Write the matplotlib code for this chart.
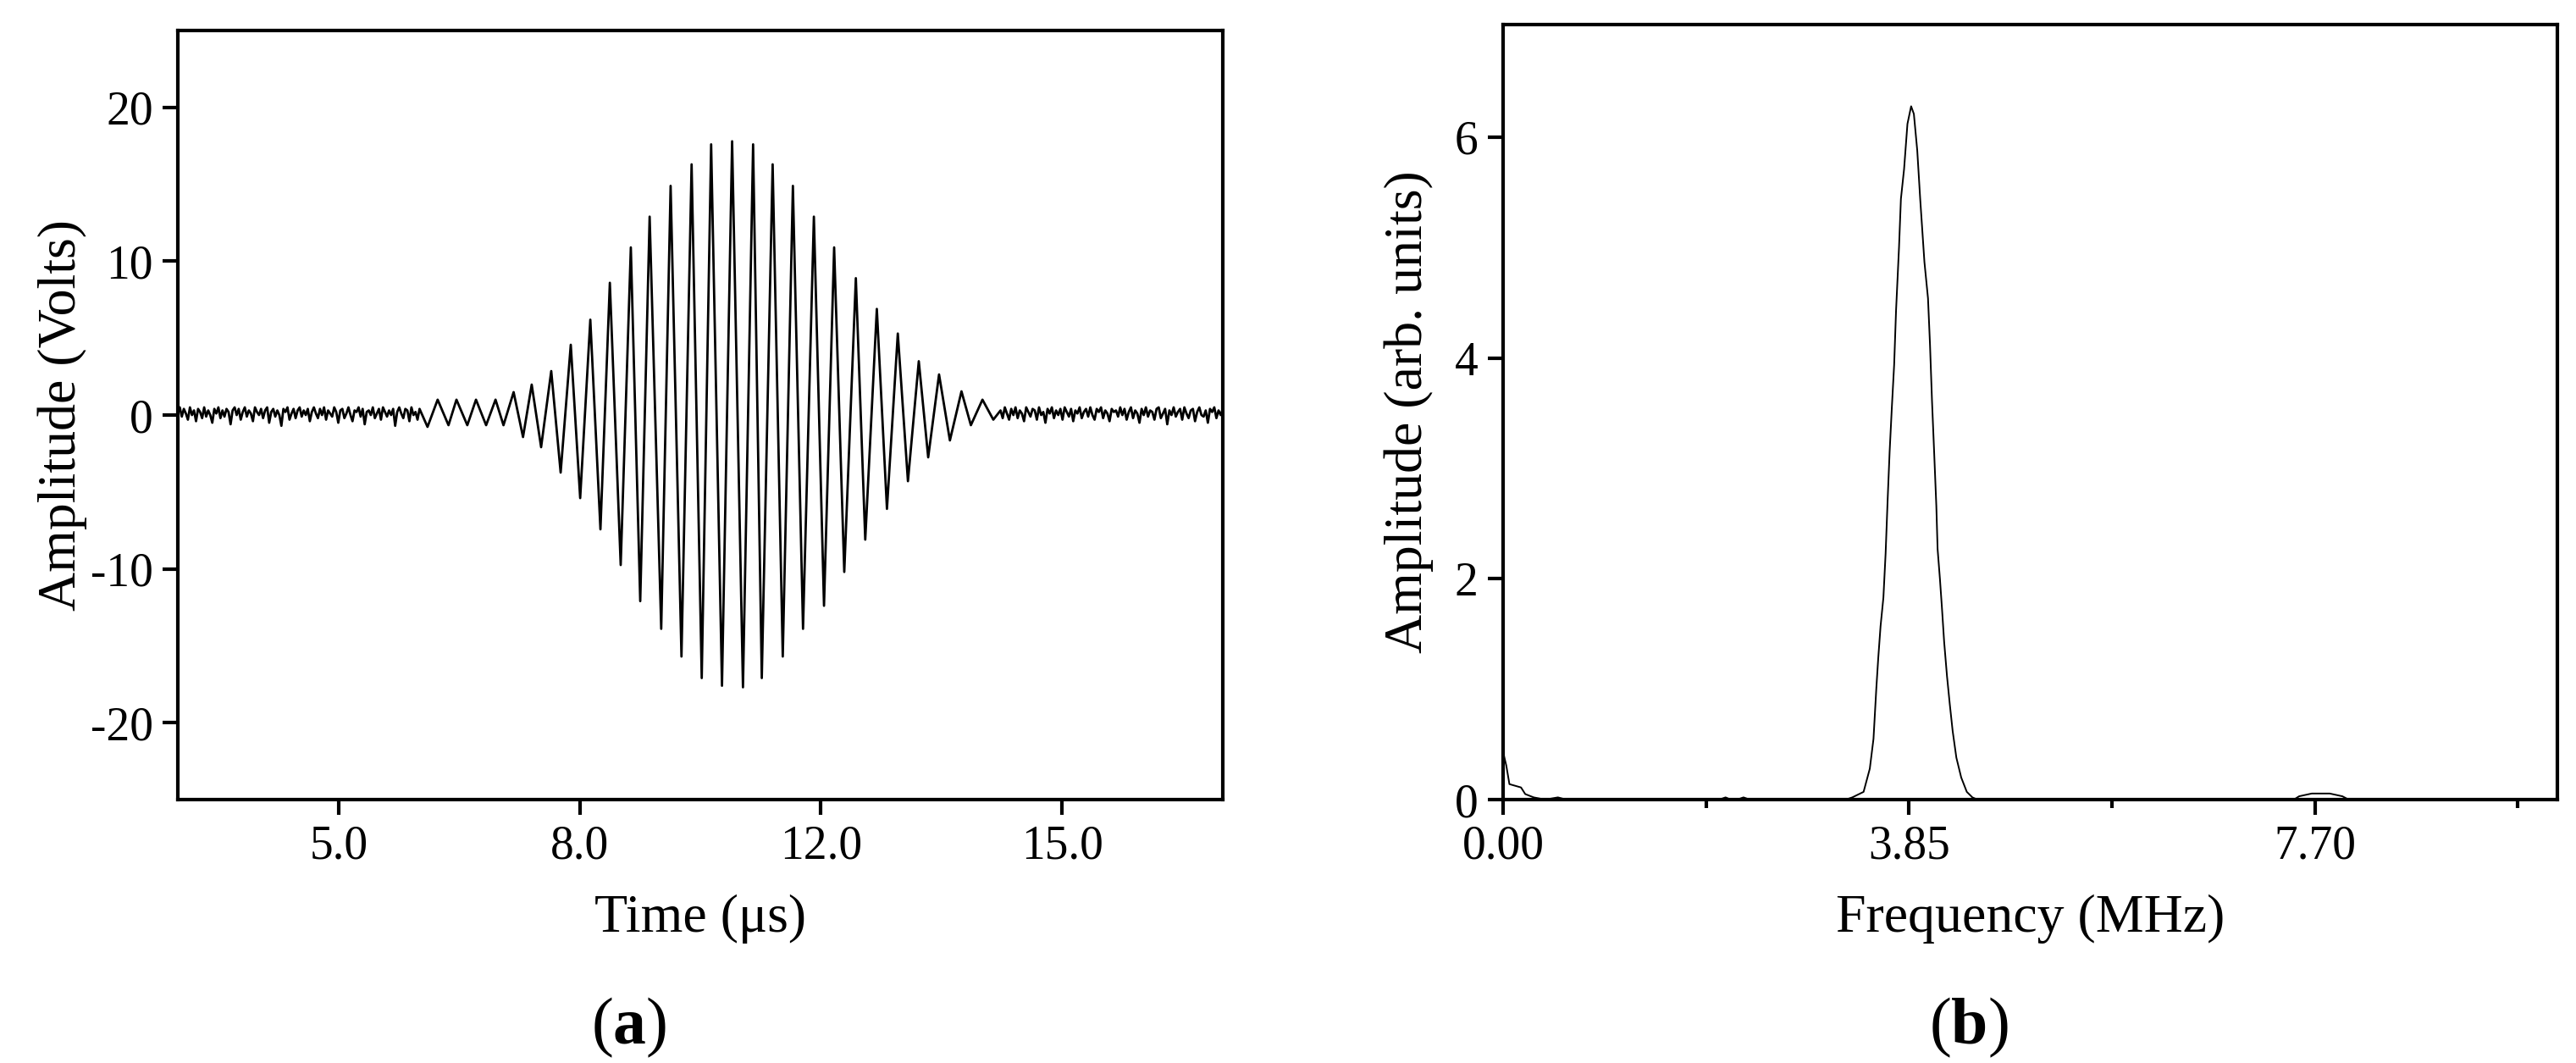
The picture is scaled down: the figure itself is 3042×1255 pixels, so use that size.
import numpy as np
import matplotlib
matplotlib.use("Agg")
import matplotlib.pyplot as plt
from matplotlib.ticker import FixedLocator

plt.rcParams['font.family'] = ['Liberation Serif', 'DejaVu Serif']
plt.rcParams['mathtext.fontset'] = 'custom'
plt.rcParams['mathtext.rm'] = 'Liberation Serif'
plt.rcParams['mathtext.bf'] = 'Liberation Serif:bold'
plt.rcParams['axes.unicode_minus'] = False

# (a) burst: extrema (time in us, amplitude in V)
burst_t = [6.23, 6.37, 6.52, 6.63, 6.78, 6.90, 7.04, 7.17, 7.28, 7.42,
           7.55, 7.67, 7.80, 7.94, 8.07, 8.21, 8.34, 8.48, 8.62, 8.75,
           8.90, 9.04, 9.17, 9.30, 9.46, 9.59, 9.74, 9.88, 10.02, 10.15,
           10.30, 10.44, 10.59, 10.73, 10.85, 11.00, 11.14, 11.28, 11.42, 11.57,
           11.71, 11.85, 11.99, 12.15, 12.28, 12.44, 12.58, 12.73, 12.87, 13.02,
           13.15, 13.30, 13.45, 13.61, 13.74, 13.90, 14.05]
burst_v = [-0.77, 1.0, -0.66, 1.0, -0.66, 1.0, -0.66, 1.0, -0.66, 1.49,
           -1.43, 1.98, -2.09, 2.86, -3.74, 4.57, -5.4, 6.2, -7.43, 8.6,
           -9.75, 10.9, -12.1, 12.9, -13.9, 14.9, -15.7, 16.3, -17.1, 17.6,
           -17.6, 17.8, -17.7, 17.6, -17.1, 16.3, -15.7, 14.9, -13.9, 12.9,
           -12.4, 10.9, -10.2, 8.9, -8.1, 6.9, -6.1, 5.3, -4.3, 3.5,
           -2.75, 2.64, -1.65, 1.54, -0.66, 1.0, -0.3]

# baseline jitter before and after the burst (V)
noise_left = [0.2, 0.5, -0.1, 0.4, 0.1, -0.3, 0.5, 0.0, 0.3, -0.4,
              0.4, 0.2, -0.2, 0.5, -0.1, 0.3, 0.0, -0.5, 0.4, 0.1,
              0.5, -0.2, 0.3, -0.1, 0.4, 0.2, -0.6, 0.3, 0.5, 0.0,
              0.4, -0.3, 0.2, 0.5, -0.1, 0.3, 0.1, -0.4, 0.5, 0.2,
              0.0, 0.4, -0.2, 0.3, 0.5, -0.5, 0.2, 0.4, -0.1, 0.3,
              0.0, -0.7, 0.4, 0.2, 0.5, -0.3, 0.1, 0.4, -0.2, 0.3,
              0.5, -0.1, 0.3, 0.0, 0.4, -0.4, 0.2, 0.5, 0.1, -0.2,
              0.4, 0.0, 0.5, -0.3, 0.3, 0.1, -0.1, 0.5, 0.2, -0.5,
              0.3, 0.4, -0.2, 0.1, 0.5, 0.0, -0.4, 0.3, 0.2, 0.5,
              -0.1, 0.4, -0.6, 0.2, 0.3, 0.0, 0.5, -0.2, 0.1, 0.4,
              -0.3, 0.5, 0.2, -0.1, 0.3, 0.0, 0.4, -0.7, 0.2, 0.5,
              0.1, -0.2, 0.4, 0.3, -0.4, 0.5, 0.0, 0.2, -0.3, 0.4]
noise_right = [0.3, -0.2, 0.5, 0.1, -0.3, 0.4, 0.0, 0.5, -0.2, 0.3,
               0.1, -0.4, 0.5, 0.2, -0.1, 0.4, 0.3, -0.3, 0.5, 0.0,
               0.2, -0.5, 0.4, 0.1, 0.5, -0.2, 0.3, 0.0, 0.4, -0.3,
               0.5, 0.2, -0.1, 0.4, -0.4, 0.3, 0.1, 0.5, -0.2, 0.2,
               0.4, -0.1, 0.5, 0.0, -0.3, 0.4, 0.2, 0.5, -0.2, 0.3,
               0.1, -0.4, 0.4, 0.2, 0.3, -0.1, 0.5, 0.0, 0.4, -0.3,
               0.2, 0.5, -0.2, 0.3, 0.1, -0.5, 0.4, 0.0, 0.5, -0.1,
               0.3, 0.2, -0.3, 0.4, 0.5, -0.2, 0.1, 0.4, -0.6, 0.3,
               0.0, 0.5, -0.1, 0.2, 0.4, -0.3, 0.5, 0.1, -0.2, 0.3,
               0.4, -0.4, 0.2, 0.5, 0.0, -0.1, 0.3, -0.5, 0.4, 0.2,
               0.5, -0.2, 0.3, 0.0, 0.4]

time_ticks = [5.0, 25 / 3, 35 / 3, 15.0]
time_labels = ["5.0", "8.0", "12.0", "15.0"]

# (b) spectrum (MHz, arb. units)
spec_f = [0.0, 0.0, 0.03, 0.06, 0.17, 0.21, 0.29, 0.40, 0.52, 0.60,
          2.05, 2.11, 2.16, 2.22, 2.28, 2.34, 3.25, 3.312, 3.419, 3.478,
          3.513, 3.540, 3.558, 3.580, 3.607, 3.628, 3.647, 3.666, 3.687, 3.709,
          3.727, 3.755, 3.773, 3.803, 3.835, 3.870, 3.896, 3.928, 3.956, 3.996,
          4.030, 4.049, 4.068, 4.089, 4.109, 4.121, 4.143, 4.162, 4.183, 4.210,
          4.237, 4.264, 4.299, 4.345, 4.398, 4.451, 4.50, 7.50, 7.55, 7.67,
          7.84, 7.96, 8.02, 10.0]
spec_a = [0.0, 0.43, 0.31, 0.14, 0.11, 0.05, 0.02, 0.0, 0.02, 0.0,
          0.0, 0.02, 0.0, 0.0, 0.02, 0.0, 0.0, 0.02, 0.07, 0.28,
          0.55, 1.01, 1.28, 1.57, 1.83, 2.23, 2.71, 3.15, 3.55, 3.94,
          4.43, 5.0, 5.44, 5.71, 6.12, 6.28, 6.21, 5.88, 5.44, 4.87,
          4.54, 4.12, 3.61, 3.13, 2.66, 2.27, 2.0, 1.74, 1.43, 1.12,
          0.86, 0.62, 0.38, 0.2, 0.07, 0.02, 0.0, 0.0, 0.03, 0.055,
          0.055, 0.03, 0.0, 0.0]

freq_major = [0.0, 3.85, 7.70]
freq_labels = ["0.00", "3.85", "7.70"]
freq_minor = [1.925, 5.775, 9.625]

t_lo, t_hi = 5 - 2 / 3 * 10 / 3, 15 + 2 / 3 * 10 / 3

fig = plt.figure(figsize=(30.42, 12.55), dpi=100)
ax1 = fig.add_axes([0.0690, 0.2478, 0.4057, 0.7235])
ax2 = fig.add_axes([0.5835, 0.2478, 0.4093, 0.7291])

t_all = np.concatenate([np.linspace(t_lo, 6.12, len(noise_left)), burst_t,
                        np.linspace(14.15, t_hi, len(noise_right))])
v_all = np.concatenate([noise_left, burst_v, noise_right])
ax1.plot(t_all, v_all, color='black', lw=2.0)
ax1.set_xlim(t_lo, t_hi)
ax1.set_ylim(-25, 25)
ax1.set_xticks(time_ticks)
ax1.set_xticklabels(time_labels)
ax1.set_yticks([-20, -10, 0, 10, 20])
ax1.set_xlabel("Time (μs)", fontsize=46, labelpad=22)
ax1.set_ylabel("Amplitude (Volts)", fontsize=46, labelpad=3)

ax2.plot(spec_f, spec_a, color='black', lw=1.4)
ax2.set_xlim(0, 10.0)
ax2.set_ylim(0, 7.02)
ax2.set_xticks(freq_major)
ax2.set_xticklabels(freq_labels)
ax2.xaxis.set_minor_locator(FixedLocator(freq_minor))
ax2.set_yticks([0, 2, 4, 6])
ax2.set_xlabel("Frequency (MHz)", fontsize=46, labelpad=22)
ax2.set_ylabel("Amplitude (arb. units)", fontsize=46, labelpad=18)

for ax in (ax1, ax2):
    for s in ax.spines.values():
        s.set_linewidth(3)
    ax.tick_params(which='major', direction='out', length=13, width=3,
                   labelsize=40, pad=8)
    ax.tick_params(which='minor', direction='out', length=7, width=3)

fig.text(743 / 3042, 1 - 1213 / 1255, r"($\mathbf{a}$)", fontsize=56,
         ha='center', va='center')
fig.text(2325 / 3042, 1 - 1213 / 1255, r"($\mathbf{b}$)", fontsize=56,
         ha='center', va='center')

fig.savefig("out.png", dpi=100)
